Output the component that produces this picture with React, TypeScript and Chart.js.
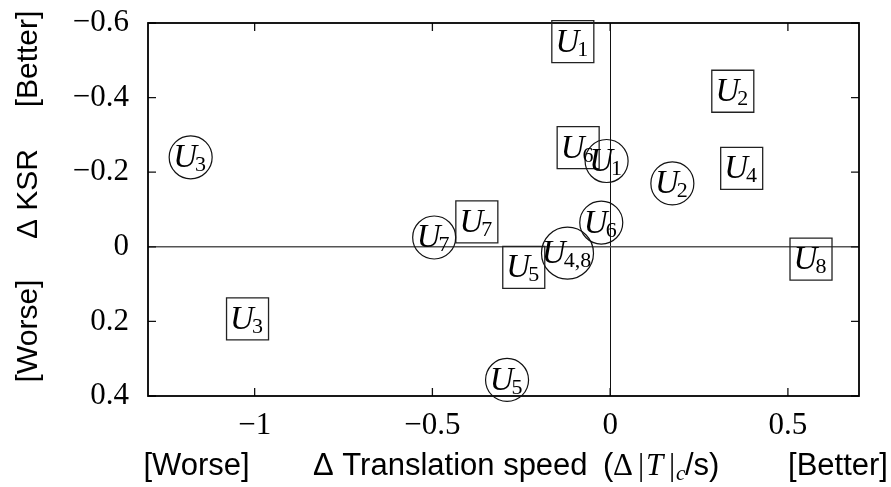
import React, { useEffect, useRef } from "react";
import { Chart, registerables } from "chart.js";

Chart.register(...registerables);

// Circled units
const circleLabels = ["3", "1", "2", "6", "4,8", "7", "5"];
const circleX = [-1.18, -0.01, 0.175, -0.025, -0.12, -0.495, -0.29];
const circleY = [-0.24, -0.23, -0.17, -0.065, 0.017, -0.025, 0.357];
const circleRadius = [21.5, 21.5, 21.5, 21.5, 26, 21.5, 21.5];

// Boxed units
const boxLabels = ["1", "2", "4", "8", "3", "5", "7", "6"];
const boxX = [-0.105, 0.345, 0.37, 0.565, -1.02, -0.243, -0.375, -0.09];
const boxY = [-0.55, -0.417, -0.21, 0.033, 0.193, 0.055, -0.067, -0.266];

const xTicks = [-1, -0.5, 0, 0.5];
const yTicks = [-0.6, -0.4, -0.2, 0, 0.2, 0.4];

const X_MIN = -1.3;
const X_MAX = 0.7;
const Y_MIN = -0.6;
const Y_MAX = 0.4;

const SERIF = "'Liberation Serif', 'DejaVu Serif', serif";
const SANS = "'Liberation Sans', Arial, sans-serif";

const fmt = (v: number) => {
  if (Math.abs(v) < 1e-9) return "0";
  const s = String(Math.round(Math.abs(v) * 100) / 100);
  return (v < 0 ? "\u2212" : "") + s;
};

// Frame, zero lines and inward tick marks
const framePlugin = {
  id: "frame",
  beforeDatasetsDraw(chart: any) {
    const { ctx, chartArea: a, scales } = chart;
    const xs = scales.x;
    const ys = scales.y;
    ctx.save();
    // zero lines
    const x0 = Math.round(xs.getPixelForValue(0)) + 0.5;
    const y0 = ys.getPixelForValue(0);
    ctx.strokeStyle = "#111";
    ctx.lineWidth = 1;
    ctx.beginPath();
    ctx.moveTo(x0, a.top);
    ctx.lineTo(x0, a.bottom);
    ctx.stroke();
    ctx.strokeStyle = "#555";
    ctx.lineWidth = 1.6;
    ctx.beginPath();
    ctx.moveTo(a.left, y0);
    ctx.lineTo(a.right, y0);
    ctx.stroke();

    // ticks
    ctx.strokeStyle = "#111";
    ctx.lineWidth = 1.3;
    const tl = 8;
    xTicks.forEach((v) => {
      const px = xs.getPixelForValue(v);
      ctx.beginPath();
      ctx.moveTo(px, a.bottom);
      ctx.lineTo(px, a.bottom - tl);
      ctx.moveTo(px, a.top);
      ctx.lineTo(px, a.top + tl);
      ctx.stroke();
    });
    yTicks.forEach((v) => {
      const py = ys.getPixelForValue(v);
      ctx.beginPath();
      ctx.moveTo(a.left, py);
      ctx.lineTo(a.left + tl, py);
      ctx.moveTo(a.right, py);
      ctx.lineTo(a.right - tl, py);
      ctx.stroke();
    });

    // frame
    ctx.strokeStyle = "#000";
    ctx.lineWidth = 1.8;
    ctx.strokeRect(a.left, a.top, a.right - a.left, a.bottom - a.top);
    ctx.restore();
  },
};

// Unit names written inside every marker
const unitLabelPlugin = {
  id: "unitLabels",
  afterDatasetsDraw(chart: any) {
    const { ctx } = chart;
    ctx.save();
    ctx.fillStyle = "#000";
    ctx.textAlign = "left";
    ctx.textBaseline = "alphabetic";
    chart.data.datasets.forEach((ds: any, di: number) => {
      const meta = chart.getDatasetMeta(di);
      const subs: string[] = ds.unitSubs;
      meta.data.forEach((el: any, i: number) => {
        const sub = subs[i];
        ctx.font = `italic 33px ${SERIF}`;
        const wU = ctx.measureText("U").width;
        ctx.font = `22px ${SERIF}`;
        const wS = ctx.measureText(sub).width;
        const total = wU + wS - 2;
        const sx = el.x - total / 2 - 1;
        ctx.font = `italic 33px ${SERIF}`;
        ctx.fillText("U", sx, el.y + 10);
        ctx.font = `22px ${SERIF}`;
        ctx.fillText(sub, sx + wU - 2, el.y + 14);
      });
    });
    ctx.restore();
  },
};

// Axis titles with their [Worse]/[Better] ends
const titlePlugin = {
  id: "axisTitles",
  afterDraw(chart: any) {
    const { ctx } = chart;
    ctx.save();
    ctx.fillStyle = "#000";
    ctx.textBaseline = "alphabetic";

    // x title
    const by = 475;
    ctx.font = `31px ${SANS}`;
    ctx.textAlign = "center";
    ctx.fillText("[Worse]", 196.5, by);
    ctx.fillText("[Better]", 838, by);
    ctx.textAlign = "left";
    ctx.fillText("\u0394 Translation speed", 313, by);
    const gx = 603;
    ctx.fillText("(", gx, by);
    ctx.font = `31px ${SERIF}`;
    ctx.fillText("\u0394", gx + 10, by);
    ctx.fillText("|", gx + 35, by);
    ctx.font = `italic 31px ${SERIF}`;
    ctx.fillText("T", gx + 43, by);
    ctx.font = `31px ${SERIF}`;
    ctx.fillText("|", gx + 66, by);
    ctx.font = `italic 21px ${SERIF}`;
    ctx.fillText("c", gx + 73, by + 5);
    ctx.font = `31px ${SANS}`;
    ctx.fillText("/s)", gx + 82, by);

    // y title, rotated
    ctx.translate(37, 0);
    ctx.rotate(-Math.PI / 2);
    ctx.textAlign = "center";
    ctx.font = `30px ${SANS}`;
    ctx.fillText("[Better]", -59, 0);
    ctx.fillText("\u0394 KSR", -194, 0);
    ctx.fillText("[Worse]", -331, 0);
    ctx.restore();
  },
};

export default function App() {
  const canvasRef = useRef<HTMLCanvasElement | null>(null);

  useEffect(() => {
    const canvas = canvasRef.current;
    if (!canvas) return;
    const chart = new Chart(canvas, {
      type: "scatter",
      data: {
        datasets: [
          {
            label: "circles",
            data: circleX.map((x, i) => ({ x, y: circleY[i] })),
            pointStyle: "circle",
            pointRadius: circleRadius,
            pointHoverRadius: circleRadius,
            borderColor: "#111",
            borderWidth: 1.2,
            backgroundColor: "rgba(0,0,0,0)",
            clip: false,
            unitSubs: circleLabels,
          } as any,
          {
            label: "boxes",
            data: boxX.map((x, i) => ({ x, y: boxY[i] })),
            pointStyle: "rect",
            pointRadius: 21 / Math.SQRT1_2,
            pointHoverRadius: 21 / Math.SQRT1_2,
            borderColor: "#222",
            borderWidth: 1.3,
            backgroundColor: "rgba(0,0,0,0)",
            clip: false,
            unitSubs: boxLabels,
          } as any,
        ],
      },
      options: {
        animation: false,
        responsive: false,
        devicePixelRatio: 1,
        layout: { autoPadding: false, padding: { top: 23, right: 32, left: 0, bottom: 0 } },
        plugins: {
          legend: { display: false },
          tooltip: { enabled: false },
        },
        events: [],
        scales: {
          x: {
            type: "linear",
            min: X_MIN,
            max: X_MAX,
            grid: { display: false },
            border: { display: false },
            afterBuildTicks: (s: any) => {
              s.ticks = xTicks.map((value) => ({ value }));
            },
            afterFit: (s: any) => {
              s.height = 91;
              s.paddingLeft = 0;
              s.paddingRight = 0;
            },
            ticks: {
              padding: 3,
              color: "#000",
              font: { family: SERIF, size: 31 },
              callback: (v: any) => fmt(Number(v)),
            },
          },
          y: {
            type: "linear",
            reverse: true,
            min: Y_MIN,
            max: Y_MAX,
            grid: { display: false },
            border: { display: false },
            afterBuildTicks: (s: any) => {
              s.ticks = yTicks.map((value) => ({ value }));
            },
            afterFit: (s: any) => {
              s.width = 148;
              s.paddingTop = 0;
              s.paddingBottom = 0;
            },
            ticks: {
              padding: 11,
              color: "#000",
              font: { family: SERIF, size: 31 },
              callback: (v: any) => fmt(Number(v)),
            },
          },
        },
      },
      plugins: [framePlugin, unitLabelPlugin, titlePlugin],
    });
    return () => chart.destroy();
  }, []);

  return (
    <div style={{ position: "fixed", left: 0, top: 0, width: 891, height: 487, background: "#fff" }}>
      <canvas ref={canvasRef} width={891} height={487} style={{ display: "block" }} />
    </div>
  );
}
